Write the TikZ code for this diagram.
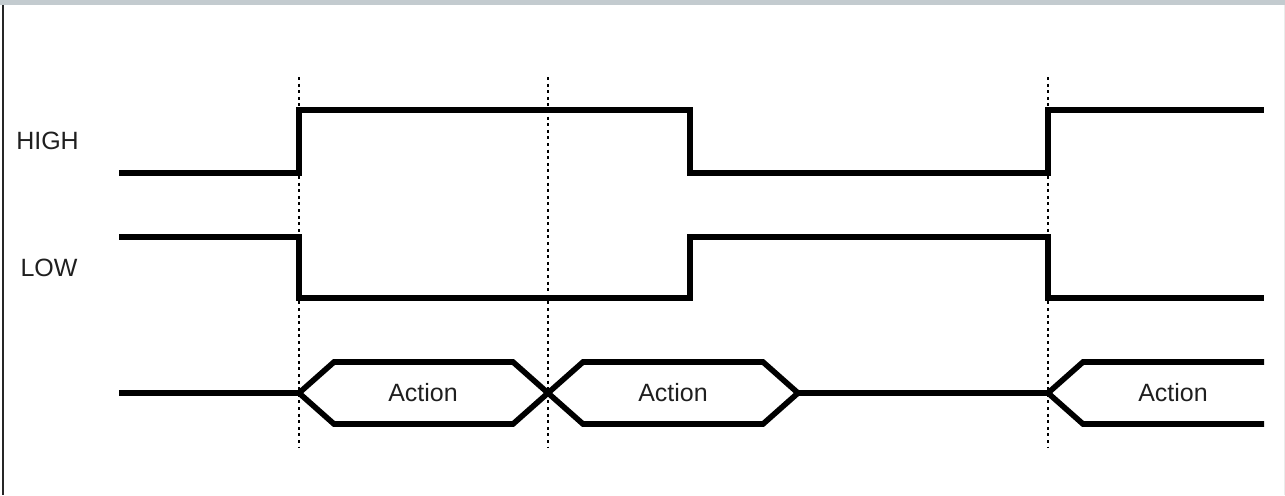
\documentclass[tikz,border=0pt]{standalone}
\usepackage{fontspec}
\setmainfont{Liberation Sans}
\begin{document}
\begin{tikzpicture}[x=0.5pt,y=-0.5pt,
  sig/.style={line width=2.8pt, black, line join=miter},
  guide/.style={line width=0.7pt, dash pattern=on 1.5pt off 1.8pt, black},
  lbl/.style={font=\fontsize{12.5}{15}\selectfont, text=black!88, inner sep=0pt}]
\useasboundingbox (0,0) rectangle (1285,495);
\fill[fill={rgb,255:red,195;green,203;blue,207}] (0,0) rectangle (1285,5);
\draw[line width=0.9pt, black!85] (2.7,5) -- (2.7,495);
\draw[line width=0.5pt, black!8] (1284,5) -- (1284,495);
% guides
\coordinate (g1t) at (299,77); \coordinate (g1b) at (299,447);
\coordinate (g2t) at (548,77); \coordinate (g2b) at (548,447);
\coordinate (g3t) at (1048,77); \coordinate (g3b) at (1048,447);
\draw[guide] (g1t) -- (g1b);
\draw[guide] (g2t) -- (g2b);
\draw[guide] (g3t) -- (g3b);
% labels
\node[lbl] (high) at (47.5,141) {HIGH};
\node[lbl] (low) at (49,268) {LOW};
% HIGH signal
\draw[sig] (119,173) -- (299,173) -- (299,110) -- (690,110) -- (690,173) -- (1048,173) -- (1048,110) -- (1264,110);
% LOW signal
\draw[sig] (119,237) -- (299,237) -- (299,298) -- (690,298) -- (690,237) -- (1048,237) -- (1048,298) -- (1264,298);
% bus
\draw[sig] (119,393) -- (299,393) -- (334,362) -- (513,362) -- (548,393) -- (583,424) -- (763,424) -- (798,393) -- (1048,393) -- (1083,362) -- (1264,362);
\draw[sig] (299,393) -- (334,424) -- (513,424) -- (548,393) -- (583,362) -- (763,362) -- (798,393);
\draw[sig] (1048,393) -- (1083,424) -- (1264,424);
\node[lbl] (a1) at (423,393) {Action};
\node[lbl] (a2) at (673,393) {Action};
\node[lbl] (a3) at (1173,393) {Action};
\end{tikzpicture}
\end{document}
